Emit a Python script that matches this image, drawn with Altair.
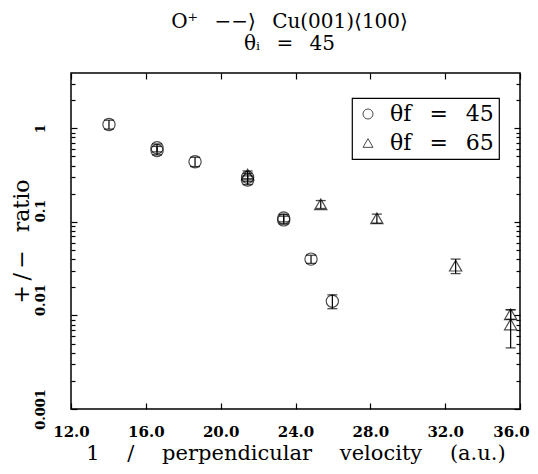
import altair as alt
import pandas as pd

# theta_f = 45 (circles)
c_x = [14.03, 16.6, 16.6, 18.63, 21.44, 21.44, 23.37, 23.37, 24.83, 25.97]
c_y = [1.10, 0.62, 0.58, 0.44, 0.30, 0.28, 0.110, 0.105, 0.040, 0.0142]
c_err = [0.12, 0.06, 0.06, 0.05, 0.03, 0.03, 0.010, 0.010, 0.004, 0.0024]
# theta_f = 65 (triangles)
t_x = [21.44, 25.35, 28.35, 32.56, 35.5, 35.5]
t_y = [0.32, 0.154, 0.109, 0.034, 0.0103, 0.0080]
t_err = [0.03, 0.015, 0.012, 0.006, 0.0012, 0.0035]

SP = "\u2002 "
WSP = "\u2003 "
series = ["θf" + SP + "=" + SP + "45", "θf" + SP + "=" + SP + "65"]
x_ticks = [12, 16, 20, 24, 28, 32, 36]
y_labels = [0.001, 0.01, 0.1, 1]
y_ticks = [m * d for d in [0.001, 0.01, 0.1, 1] for m in range(1, 10) if m * d <= 3.9]

df = pd.DataFrame({
    "x": c_x + t_x,
    "y": c_y + t_y,
    "err": c_err + t_err,
    "s": [series[0]] * len(c_x) + [series[1]] * len(t_x),
})

W, H = 449, 336
FONT = "DejaVu Serif"

xs = alt.Scale(domain=[12, 36], nice=False, zero=False)
ys = alt.Scale(type="log", domain=[0.001, 3.9], nice=False)

major_test = "abs(log(datum.value)/LN10 - round(log(datum.value)/LN10)) < 1e-6"
ytick = {"condition": {"test": major_test, "value": 6}, "value": 4}
yalign = {"condition": {"test": "datum.value < 0.002 || datum.value > 0.5", "value": "center"},
          "value": "left"}
xoffset = {"condition": {"test": "datum.value > 35", "value": -9}, "value": 0}

def tick_axis_x(orient):
    return alt.Axis(orient=orient, offset=-H, values=x_ticks, labels=False, domain=False,
                    grid=False, title=None, tickSize=6, tickColor="black", tickWidth=1.2)

def tick_axis_y(orient):
    return alt.Axis(orient=orient, offset=-W, values=y_ticks, labels=False, domain=False,
                    grid=False, title=None, tickSize=ytick, tickColor="black", tickWidth=1.2)

base = alt.Chart(df).transform_calculate(lo="datum.y - datum.err", hi="datum.y + datum.err")

rules = base.mark_rule(color="black", strokeWidth=1.2).encode(
    x=alt.X("x:Q", scale=xs, axis=alt.Axis(
        orient="bottom", values=x_ticks, format=".1f", ticks=False, tickSize=0, domain=False,
        grid=False, labelFont=FONT, labelFontWeight="bold", labelFontSize=15, labelColor="black",
        labelPadding=15, labelFlush=False, labelOffset=xoffset,
        title="1" + WSP + "/" + WSP + "perpendicular" + WSP + "velocity" + WSP + "(a.u.)",
        titleFont=FONT, titleFontWeight="normal", titleFontSize=21, titleColor="black",
        titlePadding=3)),
    y=alt.Y("lo:Q", scale=ys, axis=alt.Axis(
        orient="left", values=y_labels, format="~g", ticks=False, tickSize=0, domain=False,
        grid=False, labelFont=FONT, labelFontWeight="bold", labelFontSize=13, labelColor="black",
        labelAngle=270, labelAlign=yalign, labelBaseline="bottom", labelPadding=24,
        labelFlush=False,
        title="+" + "\u2009" + "/" + "\u2009" + "−" + SP + "ratio", titleFont=FONT,
        titleFontWeight="normal", titleFontSize=22, titleColor="black", titlePadding=1)),
    y2="hi:Q",
)

lo_caps = base.mark_tick(orient="horizontal", color="black", size=10, thickness=1.3).encode(
    x=alt.X("x:Q", scale=xs, axis=tick_axis_x("top")),
    y=alt.Y("lo:Q", scale=ys, axis=tick_axis_y("right")),
)

hi_caps = base.mark_tick(orient="horizontal", color="black", size=10, thickness=1.3).encode(
    x=alt.X("x:Q", scale=xs, axis=tick_axis_x("bottom")),
    y=alt.Y("hi:Q", scale=ys, axis=tick_axis_y("left")),
)

points = base.mark_point(filled=False, size=150, strokeWidth=1.2, color="black").encode(
    x=alt.X("x:Q", scale=xs, axis=None),
    y=alt.Y("y:Q", scale=ys, axis=None),
    shape=alt.Shape("s:N", scale=alt.Scale(domain=series, range=["circle", "triangle-up"]),
                    legend=alt.Legend(orient="none", legendX=281, legendY=25, title=None,
                                      labelFont=FONT, labelFontSize=22, labelColor="black",
                                      symbolSize=100, symbolStrokeColor="black",
                                      symbolStrokeWidth=1, symbolFillColor="white",
                                      strokeColor="black", padding=5, rowPadding=7,
                                      labelOffset=11)),
)

chart = alt.layer(rules, lo_caps, hi_caps, points).resolve_axis(
    x="independent", y="independent"
).properties(
    width=W, height=H,
    autosize=alt.AutoSizeParams(type="none"),
    padding={"left": 63, "top": 65, "right": 10, "bottom": 57},
    title=alt.TitleParams(text=["O⁺" + SP + "−−⟩" + SP + "Cu(001)⟨100⟩",
                                "θᵢ" + SP + "=" + SP + "45"],
                          font=FONT, fontSize=20, fontWeight="normal", color="black",
                          anchor="middle", offset=18, lineHeight=22, dx=-6),
).configure_view(stroke="black", strokeWidth=1.5).configure_legend(strokeWidth=1.2)

chart.save("out.html", embed_options={"renderer": "svg", "actions": False})
